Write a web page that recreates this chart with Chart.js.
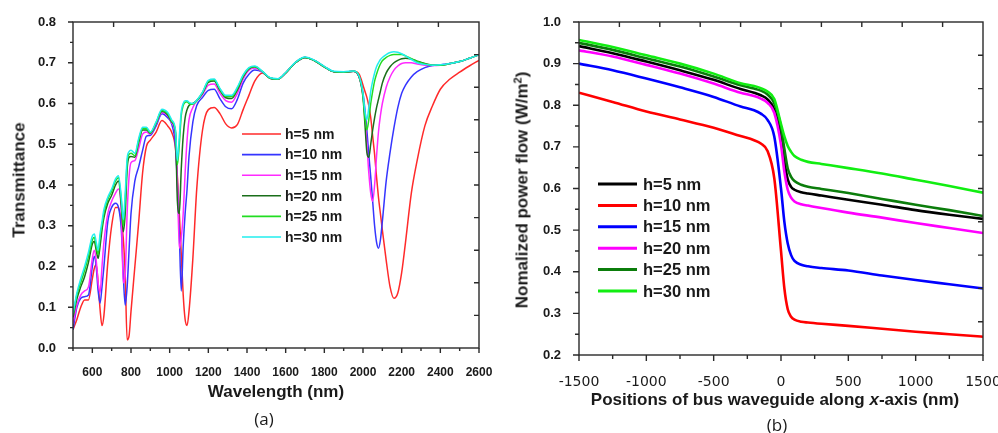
<!DOCTYPE html>
<html><head><meta charset="utf-8">
<script src="https://cdn.jsdelivr.net/npm/chart.js@4.4.0/dist/chart.umd.min.js"></script>
<style>
html,body{margin:0;padding:0;background:#fff;}
#wrap{position:relative;width:998px;height:433px;overflow:hidden;font-family:"Liberation Sans",Arial,sans-serif;color:#1a1a1a;}
canvas{position:absolute;top:0;}
.t{position:absolute;white-space:nowrap;font-weight:bold;font-size:17px;line-height:1;transform:translate(-50%,-50%);}
.r{transform:translate(-50%,-50%) rotate(-90deg);}
.p{font-weight:normal;font-family:"Open Sans","Liberation Sans",sans-serif;}
sup{font-size:11px;vertical-align:6px;line-height:0;}
</style></head>
<body><div id="wrap">
<canvas id="ca" width="499" height="433" style="left:0"></canvas>
<canvas id="cb" width="499" height="433" style="left:499px"></canvas>
<div class="t r" style="left:19px;top:180px">Transmittance</div>
<div class="t" style="left:276px;top:391px">Wavelength (nm)</div>
<div class="t p" style="left:264px;top:418px">(a)</div>
<div class="t r" style="left:522px;top:190px">Nomalized power flow (W/m<sup>2</sup>)</div>
<div class="t" style="left:775px;top:399px">Positions of bus waveguide along <i>x</i>-axis (nm)</div>
<div class="t p" style="left:777px;top:424px">(b)</div>
</div>
<script>
// ---------- Panel (a) data ----------
const wavelength = [500,520,540,560,580,600,610,620,630,640,
 650,660,680,700,720,735,750,760,770,780,
 790,800,820,840,860,880,900,930,960,990,
 1010,1030,1040,1050,1060,1070,1080,1090,1100,1120,
 1140,1170,1200,1230,1260,1290,1320,1350,1380,1410,
 1440,1480,1520,1560,1600,1650,1700,1750,1800,1850,
 1900,1950,1980,2000,2010,2020,2030,2040,2050,2060,
 2070,2080,2090,2100,2120,2140,2160,2180,2200,2220,
 2250,2280,2320,2360,2400,2450,2500,2550,2600];
const labelsA = ['h=5 nm','h=10 nm','h=15 nm','h=20 nm','h=25 nm','h=30 nm'];
const tA_h5 = [0.045,0.070,0.100,0.118,0.118,0.170,0.195,0.205,0.160,0.095,
 0.055,0.080,0.210,0.300,0.345,0.345,0.310,0.270,0.180,0.020,
 0.030,0.090,0.200,0.310,0.430,0.495,0.510,0.530,0.558,0.545,
 0.530,0.490,0.420,0.330,0.230,0.130,0.070,0.055,0.090,0.220,
 0.390,0.535,0.585,0.590,0.575,0.550,0.540,0.548,0.585,0.620,
 0.655,0.675,0.662,0.660,0.675,0.700,0.713,0.705,0.690,0.678,
 0.677,0.679,0.672,0.645,0.630,0.615,0.595,0.565,0.520,0.475,
 0.420,0.370,0.330,0.290,0.215,0.150,0.122,0.135,0.185,0.260,
 0.380,0.460,0.545,0.595,0.635,0.660,0.677,0.692,0.706];
const tA_h10 = [0.045,0.100,0.122,0.126,0.130,0.200,0.225,0.200,0.140,0.110,
 0.150,0.200,0.310,0.345,0.355,0.345,0.290,0.180,0.105,0.150,
 0.240,0.330,0.410,0.445,0.485,0.520,0.522,0.545,0.575,0.565,
 0.550,0.495,0.400,0.280,0.140,0.250,0.330,0.390,0.470,0.555,
 0.595,0.615,0.632,0.635,0.612,0.592,0.587,0.610,0.650,0.672,
 0.682,0.677,0.662,0.660,0.675,0.700,0.713,0.705,0.690,0.678,
 0.677,0.679,0.665,0.625,0.585,0.535,0.475,0.420,0.360,0.300,
 0.260,0.245,0.265,0.310,0.410,0.480,0.540,0.590,0.625,0.645,
 0.665,0.678,0.688,0.693,0.695,0.698,0.703,0.711,0.720];
const tA_h15 = [0.060,0.105,0.130,0.140,0.150,0.220,0.240,0.215,0.160,0.135,
 0.200,0.260,0.330,0.360,0.380,0.390,0.330,0.160,0.180,0.330,
 0.420,0.455,0.460,0.490,0.525,0.530,0.525,0.550,0.578,0.570,
 0.553,0.520,0.410,0.245,0.270,0.330,0.430,0.510,0.560,0.590,
 0.607,0.622,0.645,0.648,0.625,0.607,0.603,0.625,0.660,0.682,
 0.687,0.677,0.662,0.660,0.675,0.700,0.713,0.705,0.690,0.678,
 0.677,0.679,0.665,0.620,0.570,0.500,0.430,0.380,0.360,0.400,
 0.470,0.530,0.570,0.600,0.640,0.665,0.682,0.692,0.698,0.700,
 0.700,0.697,0.694,0.693,0.694,0.698,0.703,0.711,0.720];
const tA_h20 = [0.075,0.120,0.150,0.175,0.210,0.255,0.262,0.240,0.220,0.250,
 0.290,0.320,0.355,0.375,0.400,0.410,0.350,0.285,0.330,0.440,
 0.468,0.470,0.468,0.505,0.535,0.535,0.527,0.552,0.581,0.572,
 0.555,0.528,0.360,0.330,0.440,0.520,0.565,0.585,0.595,0.600,
 0.607,0.625,0.652,0.655,0.632,0.614,0.612,0.633,0.665,0.685,
 0.690,0.678,0.662,0.660,0.675,0.700,0.713,0.705,0.690,0.678,
 0.677,0.679,0.665,0.615,0.550,0.480,0.468,0.500,0.535,0.565,
 0.590,0.610,0.630,0.650,0.675,0.690,0.700,0.706,0.710,0.711,
 0.709,0.704,0.698,0.694,0.694,0.698,0.703,0.711,0.720];
const tA_h25 = [0.080,0.130,0.160,0.190,0.225,0.265,0.272,0.250,0.230,0.270,
 0.300,0.330,0.365,0.385,0.410,0.418,0.360,0.300,0.360,0.455,
 0.475,0.478,0.472,0.510,0.538,0.538,0.528,0.553,0.583,0.575,
 0.557,0.532,0.450,0.500,0.570,0.595,0.603,0.604,0.600,0.598,
 0.607,0.627,0.655,0.658,0.635,0.618,0.617,0.637,0.668,0.686,
 0.690,0.678,0.662,0.660,0.675,0.700,0.713,0.705,0.690,0.678,
 0.677,0.679,0.666,0.620,0.565,0.535,0.560,0.600,0.630,0.655,
 0.672,0.686,0.697,0.705,0.713,0.718,0.720,0.720,0.720,0.717,
 0.710,0.703,0.697,0.694,0.694,0.698,0.703,0.711,0.720];
const tA_h30 = [0.085,0.135,0.170,0.200,0.235,0.275,0.280,0.260,0.240,0.280,
 0.310,0.340,0.370,0.390,0.415,0.423,0.370,0.315,0.380,0.465,
 0.482,0.485,0.478,0.515,0.542,0.542,0.530,0.555,0.586,0.578,
 0.560,0.535,0.460,0.520,0.580,0.600,0.607,0.607,0.603,0.600,
 0.608,0.628,0.657,0.660,0.637,0.620,0.620,0.640,0.670,0.688,
 0.692,0.679,0.663,0.661,0.676,0.701,0.714,0.706,0.691,0.679,
 0.678,0.680,0.667,0.625,0.580,0.560,0.590,0.630,0.655,0.675,
 0.690,0.700,0.708,0.713,0.720,0.725,0.727,0.726,0.722,0.717,
 0.708,0.700,0.696,0.694,0.695,0.698,0.703,0.711,0.720];
const xTicksA = [600,800,1000,1200,1400,1600,1800,2000,2200,2400,2600];
const yTicksA = [0.0,0.1,0.2,0.3,0.4,0.5,0.6,0.7,0.8];

// ---------- Panel (b) data ----------
const positionB = [-1500,-1250,-1000,-750,-500,-300,-200,-150,-100,-50,0,25,50,75,100,150,200,300,500,750,1000,1250,1500];
const labelsB = ['h=5 nm','h=10 nm','h=15 nm','h=20 nm','h=25 nm','h=30 nm'];
const pB_h5  = [0.942,0.925,0.905,0.884,0.861,0.839,0.830,0.824,0.814,0.790,0.725,0.665,0.622,0.604,0.597,0.591,0.588,0.583,0.573,0.561,0.548,0.537,0.527];
const pB_h10 = [0.830,0.808,0.785,0.766,0.746,0.726,0.716,0.708,0.690,0.625,0.450,0.360,0.310,0.292,0.285,0.280,0.278,0.275,0.270,0.263,0.256,0.250,0.244];
const pB_h15 = [0.900,0.884,0.864,0.843,0.820,0.797,0.788,0.780,0.765,0.725,0.600,0.520,0.468,0.440,0.426,0.417,0.413,0.409,0.403,0.391,0.380,0.370,0.360];
const pB_h20 = [0.932,0.917,0.897,0.876,0.852,0.830,0.822,0.816,0.806,0.782,0.705,0.640,0.597,0.578,0.569,0.562,0.559,0.553,0.542,0.530,0.517,0.505,0.493];
const pB_h25 = [0.950,0.933,0.913,0.893,0.869,0.848,0.840,0.835,0.826,0.805,0.748,0.695,0.648,0.628,0.618,0.609,0.604,0.599,0.589,0.575,0.561,0.548,0.534];
const pB_h30 = [0.957,0.940,0.920,0.900,0.876,0.853,0.846,0.841,0.833,0.815,0.755,0.725,0.702,0.688,0.678,0.669,0.664,0.659,0.649,0.636,0.621,0.606,0.590];
const xTicksB = [-1500,-1000,-500,0,500,1000,1500];
const yTicksB = [0.2,0.3,0.4,0.5,0.6,0.7,0.8,0.9,1.0];

// ---------- helpers ----------
const pts = (xs, ys) => xs.map((x,i)=>({x:x, y:ys[i]}));

const frameTicks = {
  id:'frameTicks',
  afterDraw(chart, args, o){
    const ctx=chart.ctx, a=chart.chartArea, xs=chart.scales.x, ys=chart.scales.y;
    ctx.save();
    ctx.strokeStyle='#2a2a2a'; ctx.lineWidth=1.4;
    ctx.strokeRect(a.left,a.top,a.right-a.left,a.bottom-a.top);
    ctx.beginPath();
    xs.ticks.forEach(t=>{const p=xs.getPixelForValue(t.value); ctx.moveTo(p,a.bottom); ctx.lineTo(p,a.bottom+o.major);});
    const nx=Math.round((xs.max-xs.min)/o.xMinor);
    for(let i=0;i<=nx;i++){const p=xs.getPixelForValue(xs.min+i*o.xMinor); ctx.moveTo(p,a.bottom); ctx.lineTo(p,a.bottom+o.minor);}
    ys.ticks.forEach(t=>{const p=ys.getPixelForValue(t.value); ctx.moveTo(a.left,p); ctx.lineTo(a.left-o.major,p);});
    const ny=Math.round((ys.max-ys.min)/o.yMinor);
    for(let i=0;i<=ny;i++){const p=ys.getPixelForValue(ys.min+i*o.yMinor); ctx.moveTo(a.left,p); ctx.lineTo(a.left-o.minor,p);}
    for(let i=1;i<10;i++){
      const x=a.left+(a.right-a.left)*i/10; ctx.moveTo(x,a.top); ctx.lineTo(x,a.top+o.inner);
      const y=a.top+(a.bottom-a.top)*i/10; ctx.moveTo(a.right,y); ctx.lineTo(a.right-o.inner,y);
    }
    ctx.stroke();
    // legend
    const L=o.legend;
    chart.data.datasets.forEach((d,i)=>{
      const y=L.y0+i*L.dy;
      ctx.beginPath(); ctx.strokeStyle=d.borderColor; ctx.lineWidth=L.lw;
      ctx.moveTo(L.x1,y); ctx.lineTo(L.x2,y); ctx.stroke();
      ctx.fillStyle='#1a1a1a'; ctx.font=L.font; ctx.textBaseline='middle'; ctx.textAlign='left';
      ctx.fillText(d.label,L.tx,y+1);
    });
    ctx.restore();
  }
};

function mkDatasets(xs, series, labels, colors, lw){
  return series.map((s,i)=>({label:labels[i], data:pts(xs,s), borderColor:colors[i], backgroundColor:colors[i],
    borderWidth:lw, pointRadius:0, cubicInterpolationMode:'monotone', fill:false, order:series.length-i}));
}

function axes(cfg){
  return {
    x:{type:'linear', min:cfg.xmin, max:cfg.xmax,
       afterBuildTicks:s=>{s.ticks=cfg.xt.map(v=>({value:v}));},
       afterFit:s=>{s.height=cfg.xh; s.paddingLeft=0; s.paddingRight=0;},
       grid:{display:false}, border:{display:false},
       ticks:{autoSkip:false, maxRotation:0, padding:cfg.xpad, color:'#1a1a1a', font:cfg.xfont, callback:v=>String(v)}},
    y:{type:'linear', min:cfg.ymin, max:cfg.ymax,
       afterBuildTicks:s=>{s.ticks=cfg.yt.map(v=>({value:v}));},
       afterFit:s=>{s.width=cfg.yw; s.paddingTop=0; s.paddingBottom=0;},
       grid:{display:false}, border:{display:false},
       ticks:{autoSkip:false, padding:cfg.ypad, color:'#1a1a1a', font:cfg.yfont, callback:v=>Number(v).toFixed(1)}}
  };
}

new Chart(document.getElementById('ca'), {
  type:'line',
  data:{datasets:mkDatasets(wavelength,[tA_h5,tA_h10,tA_h15,tA_h20,tA_h25,tA_h30],labelsA,
    ['#ff2a2a','#3535ff','#ff2aff','#1a6e1a','#22dd22','#22eeee'],1.5)},
  options:{responsive:false, animation:false, devicePixelRatio:1,
    layout:{padding:{top:22,right:20,left:0,bottom:0}},
    scales:axes({xmin:500,xmax:2600,ymin:0,ymax:0.8,xt:xTicksA,yt:yTicksA,xh:85,yw:73,xpad:9,ypad:9,
      xfont:{family:'"Liberation Sans", Arial, sans-serif',weight:'bold',size:12},
      yfont:{family:'"Liberation Sans", Arial, sans-serif',weight:'bold',size:13}}),
    plugins:{legend:{display:false}, tooltip:{enabled:false},
      frameTicks:{major:5,minor:3,inner:5,xMinor:100,yMinor:0.05,
        legend:{x1:242,x2:281,tx:285,y0:134,dy:20.6,lw:1.6,font:'bold 14px "Liberation Sans", Arial, sans-serif'}}}
  },
  plugins:[frameTicks]
});

new Chart(document.getElementById('cb'), {
  type:'line',
  data:{datasets:mkDatasets(positionB,[pB_h5,pB_h10,pB_h15,pB_h20,pB_h25,pB_h30],labelsB,
    ['#000000','#ff0000','#0000ff','#ff00ff','#0b7d0b','#11ee11'],2.6)},
  options:{responsive:false, animation:false, devicePixelRatio:1,
    layout:{padding:{top:22,right:15,left:0,bottom:0}},
    scales:axes({xmin:-1500,xmax:1500,ymin:0.2,ymax:1.0,xt:xTicksB,yt:yTicksB,xh:78,yw:80,xpad:11,ypad:10,
      xfont:{family:'"DejaVu Sans", Verdana, sans-serif',weight:'normal',size:14},
      yfont:{family:'"Liberation Sans", Arial, sans-serif',weight:'bold',size:13}}),
    plugins:{legend:{display:false}, tooltip:{enabled:false},
      frameTicks:{major:6,minor:4,inner:5,xMinor:250,yMinor:0.05,
        legend:{x1:99,x2:138,tx:144,y0:184,dy:21.4,lw:3,font:'bold 16.5px "Liberation Sans", Arial, sans-serif'}}}
  },
  plugins:[frameTicks]
});
</script>
</body></html>
